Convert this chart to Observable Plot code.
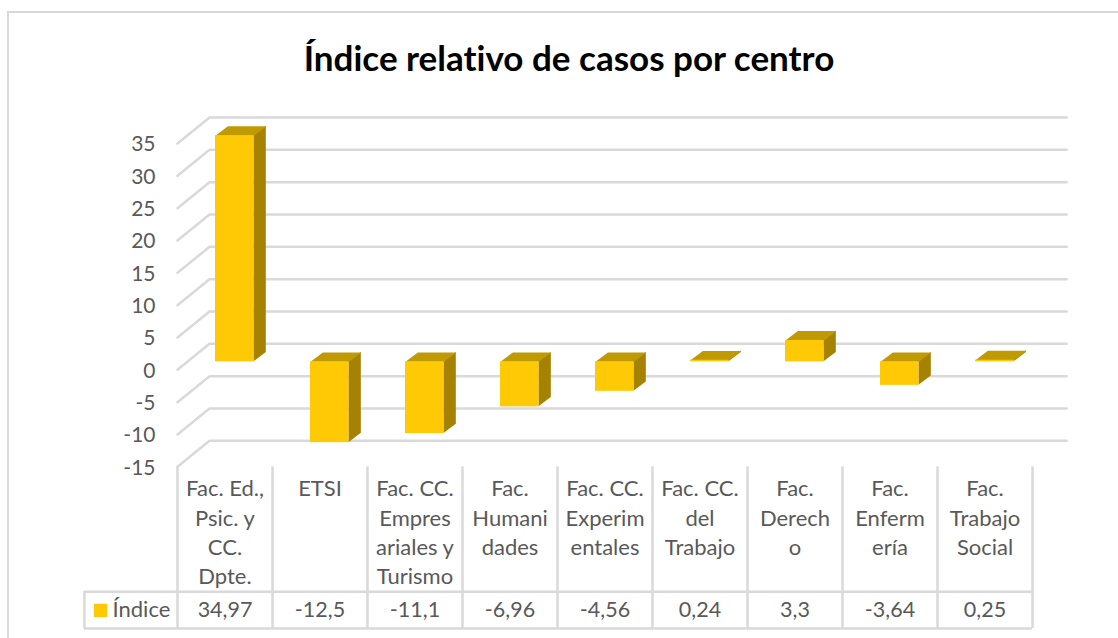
<!DOCTYPE html>
<html lang="es">
<head>
<meta charset="utf-8">
<script src="https://cdn.jsdelivr.net/npm/d3@7"></script>
<script src="https://cdn.jsdelivr.net/npm/@observablehq/plot@0.6"></script>
<style>
html,body{margin:0;padding:0;background:#fff;width:1118px;height:638px;overflow:hidden}
#wrap{position:relative;width:1118px;height:638px;overflow:hidden}
#frame{position:absolute;left:7px;top:11px;width:1200px;height:700px;border:2px solid #d9d9d9;box-sizing:border-box}
#title{position:absolute;left:0;width:1138px;top:36px;margin:0;text-align:center;font:bold 35px Lato,sans-serif;font-variant-ligatures:none;color:#000;line-height:42px}
svg{position:absolute;left:0;top:0}
</style>
</head>
<body>
<div id="wrap">
<div id="frame"></div>
<h1 id="title">Índice relativo de casos por centro</h1>
<div id="chart"></div>
</div>
<script>
const categories = ["Fac. Ed.,\nPsic. y\nCC.\nDpte.","ETSI","Fac. CC.\nEmpres\nariales y\nTurismo","Fac.\nHumani\ndades","Fac. CC.\nExperim\nentales","Fac. CC.\ndel\nTrabajo","Fac.\nDerech\no","Fac.\nEnferm\nería","Fac.\nTrabajo\nSocial"];
const values = [34.97,-12.5,-11.1,-6.96,-4.56,0.24,3.3,-3.64,0.25];
const yTicks = [-15,-10,-5,0,5,10,15,20,25,30,35];
const seriesName = "Índice";

const gold = "#FFC906", side = "#A68204", top_ = "#C09A02", gridC = "#D9D9D9", textC = "#595959";
// depth of the 3D look, in scale units
const backX = 0.337, backY = 4.02, planeY = 1.24, bx0 = 0.40, bw = 0.405, depthX = 0.13, depthY = 1.45;
const tableTop = -34.3, tableBottom = -40, tableLeft = -0.98, gridRight = 9.36;

const rows = values.map((v,i)=>({i,v,cat:categories[i],label:String(v).replace(".",",")}));
const grid = yTicks.flatMap(t=>[
  {t,x:0,y:t},{t,x:backX,y:t+backY},{t,x:gridRight,y:t+backY}
]);
const sideRows = rows.flatMap(d=>{
  const xr=d.i+bx0+bw;
  return [{i:d.i,x:xr,y1:planeY,y2:d.v+planeY},{i:d.i,x:xr+depthX,y1:planeY+depthY,y2:d.v+planeY+depthY}];
});
const topRows = rows.flatMap(d=>{
  const l=d.i+bx0,r=l+bw,y=Math.max(d.v,0)+planeY;
  return [{i:d.i,x:l,y},{i:d.i,x:r,y},{i:d.i,x:r+depthX,y:y+depthY},{i:d.i,x:l+depthX,y:y+depthY}];
});
const cellEdges = d3.range(0,10);
const font = "Lato, sans-serif";

const chart = Plot.plot({
  width:1118,height:638,
  marginLeft:0,marginRight:0,marginTop:0,marginBottom:0,
  style:{fontFamily:font,background:"transparent",fontVariantLigatures:"none"},
  x:{type:"linear",domain:[0,9],range:[177,1032],axis:null},
  y:{type:"linear",domain:[-40,35],range:[628,143],axis:null},
  marks:[
    Plot.line(grid,{x:"x",y:"y",z:"t",stroke:gridC,strokeWidth:2.5}),
    Plot.ruleX(cellEdges,{y1:-15,y2:tableBottom,stroke:gridC,strokeWidth:2.5}),
    Plot.ruleX([tableLeft],{y1:tableTop,y2:tableBottom,stroke:gridC,strokeWidth:2.5}),
    Plot.ruleY([tableTop,tableBottom],{x1:tableLeft,x2:9,stroke:gridC,strokeWidth:2.5}),
    Plot.areaY(sideRows,{x:"x",y1:"y1",y2:"y2",z:"i",fill:side}),
    Plot.line(topRows,{x:"x",y:"y",z:"i",fill:top_,stroke:"none"}),
    Plot.rect(rows,{x1:d=>d.i+bx0,x2:d=>d.i+bx0+bw,y1:()=>planeY,y2:d=>d.v+planeY,fill:gold}),
    Plot.text(yTicks,{x:0,y:d=>d,text:d=>String(d),textAnchor:"end",dx:-22,dy:1,fontSize:21,fill:textC}),
    Plot.text(rows,{x:d=>d.i+0.5,text:"cat",frameAnchor:"top",lineAnchor:"top",dy:475,lineHeight:1.335,fontSize:22,fill:textC}),
    Plot.text(rows,{x:d=>d.i+0.5,y:-37.2,text:"label",fontSize:21.5,fill:textC}),
    Plot.text([seriesName],{x:-0.38,y:-37.2,text:d=>d,fontSize:22,fill:textC}),
    Plot.dot([seriesName],{x:-0.81,y:-37.2,symbol:"square",r:7.5,fill:gold})
  ]
});
document.getElementById("chart").appendChild(chart);
</script>
</body>
</html>
